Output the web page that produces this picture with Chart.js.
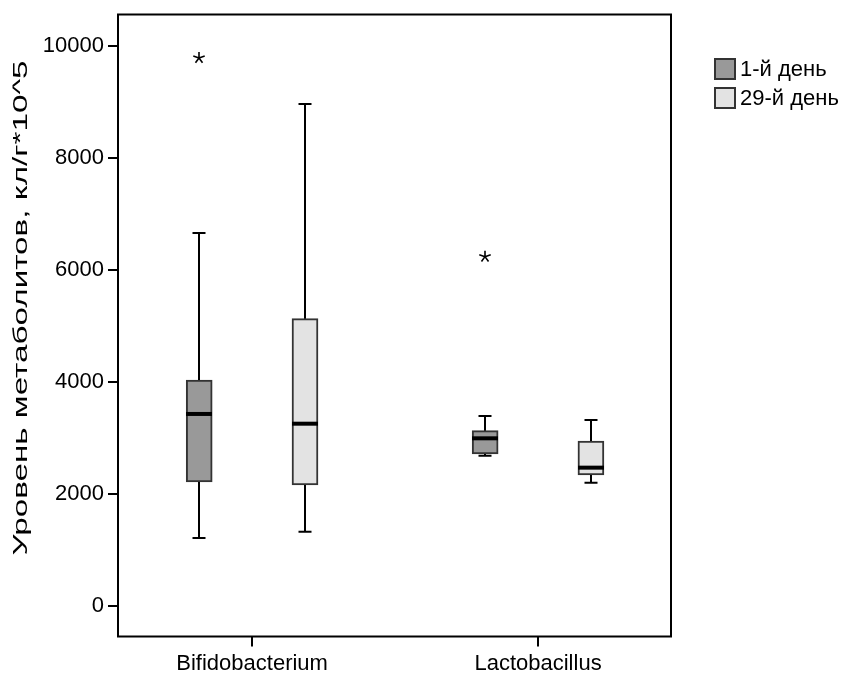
<!DOCTYPE html>
<html>
<head>
<meta charset="utf-8">
<script src="https://cdn.jsdelivr.net/npm/chart.js@4/dist/chart.umd.min.js"></script>
<style>
  html, body { margin: 0; padding: 0; background: #fff; }
  #wrap { width: 846px; height: 675px; }
</style>
</head>
<body>
<div id="wrap"><canvas id="boxChart"></canvas></div>
<script>
const categories = ['Bifidobacterium', 'Lactobacillus'];
const seriesNames = ['1-й день', '29-й день'];
const yTicks = [0, 2000, 4000, 6000, 8000, 10000];
const yTitle = 'Уровень метаболитов, кл/г*10^5';

// five-number summaries per category
const day1Low = [1214, 2684];
const day1Q1 = [2214, 2714];
const day1Median = [3429, 2994];
const day1Q3 = [4036, 3131];
const day1High = [6660, 3393];
const day1Extremes = [[9786], [6238]];

const day29Low = [1327, 2202];
const day29Q1 = [2161, 2339];
const day29Median = [3255, 2470];
const day29Q3 = [5130, 2946];
const day29High = [8964, 3321];
const day29Extremes = [[], []];

const FONT = '"Liberation Sans", Arial, sans-serif';
const shift = 0.185; // offset of each box from its category centre

const series = [
    { low: day1Low, q1: day1Q1, med: day1Median, q3: day1Q3, high: day1High, ext: day1Extremes, off: -shift },
    { low: day29Low, q1: day29Q1, med: day29Median, q3: day29Q3, high: day29High, ext: day29Extremes, off: shift }
];
const fills = ['#999999', '#e3e3e3'];

const boxDatasets = series.map((s, i) => ({
    label: seriesNames[i],
    data: categories.map((c, k) => ({ x: k + 1 + s.off, y: [s.q1[k], s.q3[k]] })),
    backgroundColor: fills[i],
    borderColor: '#333333',
    borderWidth: 2,
    borderSkipped: false,
    barThickness: 26,
    grouped: false
}));

// whiskers, medians, extreme values, frame, axis title and legend
const boxExtras = {
    id: 'boxExtras',
    afterDatasetsDraw(chart) {
        const ctx = chart.ctx;
        const xs = chart.scales.x, ys = chart.scales.y;
        const half = 13, cap = 6.5;
        ctx.save();
        series.forEach((s) => {
            categories.forEach((c, k) => {
                const cx = Math.round(xs.getPixelForValue(k + 1 + s.off));
                const yl = ys.getPixelForValue(s.low[k]);
                const yh = ys.getPixelForValue(s.high[k]);
                const y1 = ys.getPixelForValue(s.q1[k]);
                const y3 = ys.getPixelForValue(s.q3[k]);
                const ym = ys.getPixelForValue(s.med[k]);
                ctx.strokeStyle = '#000';
                ctx.lineWidth = 2;
                ctx.beginPath();
                ctx.moveTo(cx, yh); ctx.lineTo(cx, y3);
                ctx.moveTo(cx, y1); ctx.lineTo(cx, yl);
                ctx.moveTo(cx - cap, yh); ctx.lineTo(cx + cap, yh);
                ctx.moveTo(cx - cap, yl); ctx.lineTo(cx + cap, yl);
                ctx.stroke();
                ctx.lineWidth = 4;
                ctx.beginPath();
                ctx.moveTo(cx - half, ym); ctx.lineTo(cx + half, ym);
                ctx.stroke();
                // extreme values as asterisks
                s.ext[k].forEach((v) => {
                    const py = ys.getPixelForValue(v);
                    ctx.lineWidth = 1.6;
                    ctx.beginPath();
                    for (let a = 0; a < 5; a++) {
                        const ang = -Math.PI / 2 + a * 2 * Math.PI / 5;
                        ctx.moveTo(cx, py);
                        ctx.lineTo(cx + 6 * Math.cos(ang), py + 6 * Math.sin(ang));
                    }
                    ctx.stroke();
                });
            });
        });

        const area = chart.chartArea;
        ctx.strokeStyle = '#000';
        ctx.lineWidth = 2;
        ctx.strokeRect(area.left, area.top, area.right - area.left, area.bottom - area.top);

        // y axis title, drawn wide along its baseline
        ctx.fillStyle = '#000';
        ctx.font = '21px ' + FONT;
        ctx.textAlign = 'center';
        ctx.textBaseline = 'middle';
        const stretch = 495 / ctx.measureText(yTitle).width;
        ctx.save();
        ctx.translate(21, 308);
        ctx.rotate(-Math.PI / 2);
        ctx.scale(stretch, 1);
        ctx.fillText(yTitle, 0, 0);
        ctx.restore();

        // legend
        ctx.font = '22px ' + FONT;
        ctx.textBaseline = 'middle';
        ctx.textAlign = 'left';
        chart.data.datasets.forEach((ds, i) => {
            const top = 59 + i * 29;
            ctx.fillStyle = ds.backgroundColor;
            ctx.fillRect(715, top, 20, 20);
            ctx.strokeStyle = '#333333';
            ctx.lineWidth = 2;
            ctx.strokeRect(715, top, 20, 20);
            ctx.fillStyle = '#000';
            ctx.fillText(ds.label, 740, top + 11);
        });
        ctx.restore();
    }
};

const ctx = document.getElementById('boxChart').getContext('2d');

new Chart(ctx, {
    type: 'bar',
    data: { datasets: boxDatasets },
    options: {
        responsive: true,
        maintainAspectRatio: false,
        animation: false,
        layout: { padding: { top: 14.5, right: 175, left: 0, bottom: 0 } },
        scales: {
            x: {
                type: 'linear',
                offset: false,
                min: 0.531,
                max: 2.465,
                afterBuildTicks: (scale) => { scale.ticks = categories.map((c, k) => ({ value: k + 1 })); },
                afterFit: (scale) => {
                    scale.height = 38.5;
                    scale.paddingLeft = 0;
                    scale.paddingRight = 0;
                },
                grid: { offset: false, drawOnChartArea: false, drawTicks: true, tickLength: 10, color: '#000', lineWidth: 2 },
                border: { display: false },
                ticks: {
                    color: '#000',
                    font: { family: FONT, size: 22 },
                    padding: 4,
                    maxRotation: 0,
                    autoSkip: false,
                    callback: (v) => categories[v - 1]
                }
            },
            y: {
                min: -545,
                max: 10562,
                afterBuildTicks: (scale) => { scale.ticks = yTicks.map(v => ({ value: v })); },
                afterFit: (scale) => {
                    scale.width = 118;
                    scale.paddingTop = 0;
                    scale.paddingBottom = 0;
                },
                grid: { drawOnChartArea: false, drawTicks: true, tickLength: 10, color: '#000', lineWidth: 2 },
                border: { display: false },
                ticks: {
                    color: '#000',
                    font: { family: FONT, size: 22 },
                    padding: 4,
                    callback: (v) => String(v)
                },
                title: { display: false }
            }
        },
        plugins: {
            legend: { display: false },
            tooltip: { enabled: false }
        }
    },
    plugins: [boxExtras]
});
</script>
</body>
</html>
